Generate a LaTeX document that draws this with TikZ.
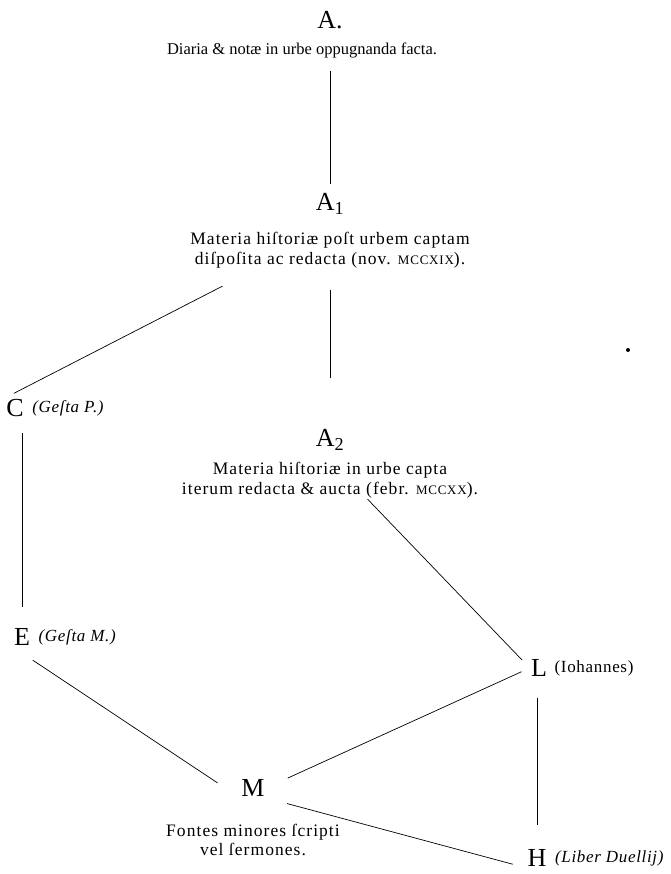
\documentclass[tikz,border=0pt]{standalone}
\usepackage{fontspec}
\setmainfont{Liberation Serif}
\newfontfamily\sperrsatz{Liberation Serif}[LetterSpace=6]
\newfontfamily\sperrnota{Liberation Serif}[LetterSpace=4]
\usetikzlibrary{positioning}
\newcommand{\smc}[1]{{\fontsize{13}{15}\selectfont #1}}
\tikzset{
  sig/.style={font=\fontsize{26}{28}\selectfont, inner sep=1pt},
  descr/.style={font=\sperrsatz\fontsize{17.5}{19.5}\selectfont, align=center, inner sep=1pt},
  nota/.style={font=\sperrnota\fontsize{17}{19}\selectfont\itshape, inner sep=1pt},
}
\begin{document}
\begin{tikzpicture}[x=1pt,y=-1pt,line width=0.7pt]
\useasboundingbox (0,0) rectangle (670,874);
\node[sig] (A) at (330,20) {A.};
\node[descr, font=\fontsize{16.5}{19}\selectfont] (At) at (302,50) {Diaria \& notæ in urbe oppugnanda facta.};
\node[sig] (A1) at (330,204) {A\textsubscript{1}};
\node[descr] (A1t) at (330,250) {Materia hiſtoriæ poſt urbem captam\\diſpoſita ac redacta (nov. \smc{MCCXIX}).};
\node[sig] (A2) at (330,440) {A\textsubscript{2}};
\node[descr] (A2t) at (330,480) {Materia hiſtoriæ in urbe capta\\iterum redacta \& aucta (febr. \smc{MCCXX}).};
\node[sig] (C) at (15,408) {C};
\node[nota, right=6pt of C] (Cn) {(Geſta P.)};
\node[sig] (E) at (22,637) {E};
\node[nota, right=6pt of E] (En) {(Geſta M.)};
\node[sig] (L) at (539,668) {L};
\node[nota, right=5pt of L] (Ln) {\upshape(Iohannes)};
\node[sig] (M) at (253,788) {M};
\node[descr] (Mt) at (253,840) {Fontes minores ſcripti\\vel ſermones.};
\node[sig] (H) at (537,858) {H};
\node[nota, right=6pt of H] (Hn) {(Liber Duellij)};
\path[draw]
(A1 |- At.south) edge[shorten <=12pt, shorten >=8pt] (A1.north)
(A1t.south) edge[shorten <=21pt, shorten >=50pt] (A2.north)
(A1t.north) edge[shorten <=121pt, shorten >=10pt] (C.north west)
(C.south -| E) edge[shorten <=15pt, shorten >=20pt] (E.north)
(A2t.-27) edge[shorten >=11pt] (L.west)
(E.south west) edge[shorten <=24pt, shorten >=27pt] (M.south west)
(L.west) edge[shorten <=9pt, shorten >=24pt] (M.east)
(M.south east) edge[shorten <=22pt, shorten >=14pt] (H.south west)
(H |- L.south) edge[shorten <=20pt, shorten >=23pt] (H.north);
\fill (628,350) circle (2pt);
\end{tikzpicture}
\end{document}
